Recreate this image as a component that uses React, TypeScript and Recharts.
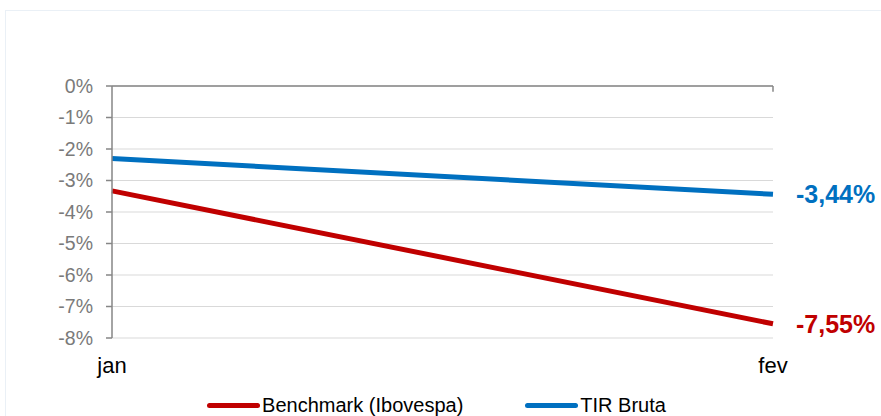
import React from 'react';
import { LineChart, Line, XAxis, YAxis, CartesianGrid, ReferenceLine } from 'recharts';

const categories = ['jan', 'fev'];
const benchmarkValues = [-3.33, -7.55];
const tirValues = [-2.3, -3.44];
const yTicks = [0, -1, -2, -3, -4, -5, -6, -7, -8];

const series = [
  { key: 'benchmark', name: 'Benchmark (Ibovespa)', color: '#c00000' },
  { key: 'tir', name: 'TIR Bruta', color: '#0070c0' },
];

const data = categories.map((c, i) => ({
  cat: c,
  benchmark: benchmarkValues[i],
  tir: tirValues[i],
}));

const FONT = '"Liberation Sans", Arial, sans-serif';

const makeEndLabel = (color: string, lastIndex: number) => (props: any) => {
  const { x, y, value, index } = props;
  if (index !== lastIndex) return null;
  return (
    <text
      x={x + 23}
      y={y}
      dy={9}
      fill={color}
      fontSize={25}
      fontWeight="bold"
      fontFamily={FONT}
      textAnchor="start"
    >
      {Number(value).toFixed(2).replace('.', ',') + '%'}
    </text>
  );
};

export default function App() {
  return (
    <div style={{ position: 'absolute', left: 0, top: 0, width: 881, height: 416, overflow: 'hidden', background: '#fff', fontFamily: FONT }}>
      <div style={{ position: 'absolute', left: 5, top: 10, width: 890, height: 420, border: '1px solid #eaf0f6', boxSizing: 'border-box' }} />
      <div style={{ position: 'absolute', left: 0, top: 0 }}>
        <LineChart width={881} height={416} data={data} margin={{ top: 86, right: 108, bottom: 48, left: 52 }}>
          <CartesianGrid vertical={false} stroke="#d9d9d9" strokeWidth={1} />
          <XAxis
            dataKey="cat"
            axisLine={false}
            tickLine={false}
            tickSize={0}
            tickMargin={19}
            height={30}
            padding={{ left: 0, right: 0 }}
            interval={0}
            tick={{ fill: '#000', fontSize: 22, fontFamily: FONT }}
          />
          <YAxis
            type="number"
            domain={[-8, 0]}
            ticks={yTicks}
            width={60}
            interval={0}
            axisLine={{ stroke: '#868686', strokeWidth: 1.5 }}
            tickLine={{ stroke: '#868686', strokeWidth: 1.5 }}
            tickSize={6}
            tickMargin={13}
            tickFormatter={(v: number) => `${v}%`}
            tick={{ fill: '#7a7a7a', fontSize: 19.5, fontFamily: FONT }}
          />
          <ReferenceLine y={0} stroke="#868686" strokeWidth={1.5} />
          <ReferenceLine segment={[{ x: 'fev', y: 0 }, { x: 'fev', y: -0.18 }]} stroke="#868686" strokeWidth={1.5} />
          {series.map((s) => (
            <Line
              key={s.key}
              dataKey={s.key}
              name={s.name}
              stroke={s.color}
              strokeWidth={5}
              dot={false}
              activeDot={false}
              isAnimationActive={false}
              label={makeEndLabel(s.color, categories.length - 1)}
            />
          ))}
        </LineChart>
      </div>
      <div style={{ position: 'absolute', left: -4, top: 394, width: 881, display: 'flex', justifyContent: 'center', gap: 62, fontSize: 20, color: '#000', lineHeight: '23px' }}>
        {series.map((s) => (
          <div key={s.key} style={{ display: 'flex', alignItems: 'center' }}>
            <div style={{ width: 53, height: 5, borderRadius: 3, background: s.color, marginRight: 2 }} />
            <span>{s.name}</span>
          </div>
        ))}
      </div>
    </div>
  );
}
